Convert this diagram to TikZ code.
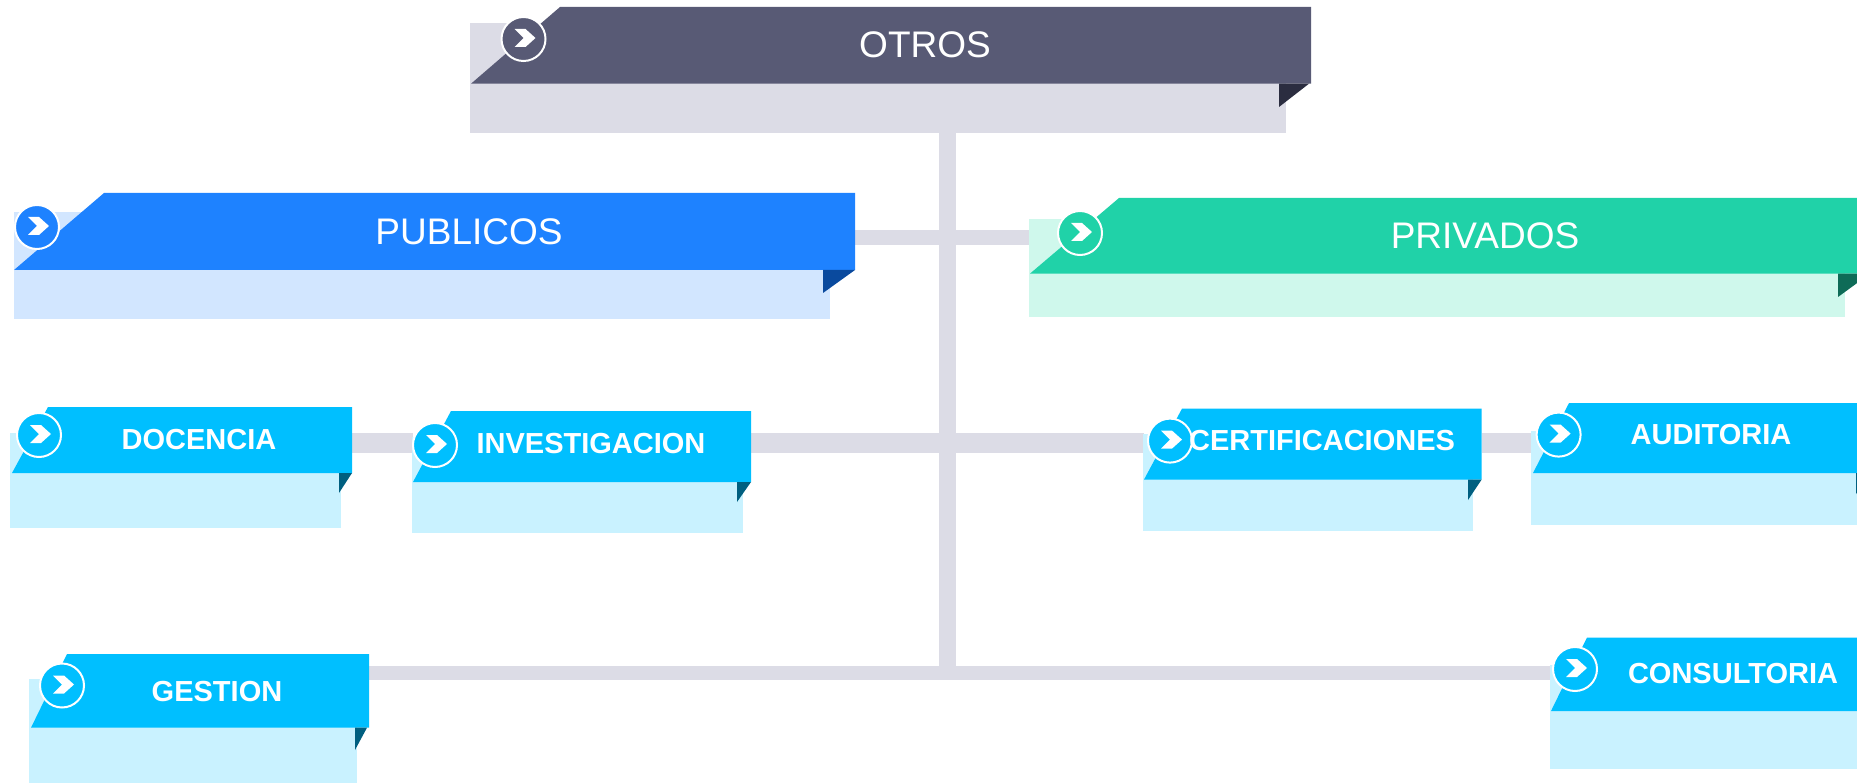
\documentclass[tikz,border=0pt]{standalone}
\usepackage{fontspec}
\setmainfont{Liberation Sans}
\usetikzlibrary{backgrounds,calc}
\definecolor{navy}{HTML}{585A75}\definecolor{navyp}{HTML}{DCDCE6}\definecolor{navyd}{HTML}{2B2D40}
\definecolor{blu}{HTML}{1E82FF}\definecolor{blup}{HTML}{D2E6FF}\definecolor{blud}{HTML}{0A4A9E}
\definecolor{grn}{HTML}{20D2A8}\definecolor{grnp}{HTML}{CFF8EC}\definecolor{grnd}{HTML}{0E6B57}
\definecolor{cya}{HTML}{00BFFF}\definecolor{cyap}{HTML}{C9F2FF}\definecolor{cyad}{HTML}{005F80}
\tikzset{
  barline/.style={draw=navyp,line cap=butt},
  headtext/.style={text=white,inner sep=0pt,font=\fontsize{37}{37}\selectfont},
  subtext/.style={text=white,inner sep=0pt,font=\bfseries\fontsize{29}{29}\selectfont},
  badge/.style={circle,draw=white,line width=2pt,minimum size=44pt,inner sep=0pt},
}
% \pale{name}{colour}{x0}{y0}{x1}{y1}
\newcommand{\pale}[6]{\fill[#2] (#3,#4) rectangle (#5,#6);
  \coordinate (#1-s) at ({(#3+#5)/2},#6);}
% \band{name}{colour}{tipx}{topx}{top}{bottom}{right}
\newcommand{\band}[7]{\fill[#2] (#3,#6) -- (#4,#5) -- (#7,#5) -- (#7,#6) -- cycle;
  \coordinate (#1-l) at (#3,{(#5+#6)/2});\coordinate (#1-r) at (#7,{(#5+#6)/2});}
% \fold{colour}{x}{y}{tipx}{bottom}
\newcommand{\fold}[5]{\fill[#1] (#2,#3) -- (#4,#3) -- (#2,#5) -- cycle;}
% \badgeat{name}{colour}{x}{y}
\newcommand{\badgeat}[4]{\node[badge,fill=#2] (#1-b) at (#3,#4) {};
  \fill[white] ($(#1-b)+(-9,-10)$) -- ($(#1-b)+(2,-10)$) -- ($(#1-b)+(12,-1)$) -- ($(#1-b)+(2,8)$) -- ($(#1-b)+(-9,8)$) -- ($(#1-b)+(0,-1)$) -- cycle;}
\begin{document}
\begin{tikzpicture}[x=1pt,y=-1pt]
\useasboundingbox (0,0) rectangle (1857,783);
\clip (0,0) rectangle (1857,783);
% OTROS
\pale{otros}{navyp}{470}{23}{1286}{132.7}
\band{otros}{navy}{471}{560}{7}{83.7}{1311}
\fold{navyd}{1279}{83.7}{1309}{107}
\badgeat{otros}{navy}{523.5}{39}
\node[headtext] (otrostxt) at (925,45) {OTROS};
% PUBLICOS
\pale{pub}{blup}{14}{212}{830}{318.6}
\band{pub}{blu}{14}{104}{193}{270}{855}
\fold{blud}{823}{270}{855}{293}
\badgeat{pub}{blu}{37}{227}
\node[headtext] (pubtxt) at (469,232) {PUBLICOS};
% PRIVADOS
\pale{priv}{grnp}{1029}{219}{1845}{317.4}
\band{priv}{grn}{1030}{1119}{198}{273.6}{1870}
\fold{grnd}{1838}{273.6}{1870}{297}
\badgeat{priv}{grn}{1080}{233}
\node[headtext] (privtxt) at (1485,236) {PRIVADOS};
% DOCENCIA
\pale{doc}{cyap}{10}{433}{341}{528}
\band{doc}{cya}{12}{48}{407}{473}{352}
\fold{cyad}{339}{473}{352}{493}
\badgeat{doc}{cya}{39}{435}
\node[subtext] (doctxt) at (199,440) {DOCENCIA};
% INVESTIGACION
\pale{inv}{cyap}{412}{437}{743}{533}
\band{inv}{cya}{413}{451}{411}{482}{751}
\fold{cyad}{737}{482}{751}{502}
\badgeat{inv}{cya}{435}{445}
\node[subtext] (invtxt) at (591,444) {INVESTIGACION};
% CERTIFICACIONES
\pale{cert}{cyap}{1143}{434}{1473}{530.6}
\band{cert}{cya}{1144}{1182}{408.6}{479.6}{1481.6}
\fold{cyad}{1468}{479.6}{1481.6}{500}
\badgeat{cert}{cya}{1170}{440.6}
\node[subtext] (certtxt) at (1322,441) {CERTIFICACIONES};
% AUDITORIA
\pale{aud}{cyap}{1531}{431}{1870}{525}
\band{aud}{cya}{1533}{1569}{403}{473}{1870}
\fold{cyad}{1856}{473}{1870}{494}
\badgeat{aud}{cya}{1558.6}{434.6}
\node[subtext] (audtxt) at (1711,435) {AUDITORIA};
% GESTION
\pale{ges}{cyap}{29}{679}{357}{783}
\band{ges}{cya}{31}{67}{654}{727.7}{369}
\fold{cyad}{355}{727.7}{367}{750}
\badgeat{ges}{cya}{62}{685.5}
\node[subtext] (gestxt) at (217,692) {GESTION};
% CONSULTORIA
\pale{con}{cyap}{1550}{665}{1870}{769}
\band{con}{cya}{1551}{1587}{637.5}{711}{1870}
\badgeat{con}{cya}{1575}{669}
\node[subtext] (contxt) at (1733,674) {CONSULTORIA};
% connectors
\coordinate (trunk) at (947.5,680);
\coordinate (rowa) at (947.5,237.5);
\coordinate (rowb) at (947.5,443);
\coordinate (rowc) at (947.5,673);
\begin{pgfonlayer}{background}
\draw[barline,line width=17pt] (trunk |- otros-s) -- (trunk);
\draw[barline,line width=15pt] (rowa -| pub-r) -- (rowa -| priv-l);
\draw[barline,line width=20pt] (rowb -| doc-r) -- (rowb -| inv-l);
\draw[barline,line width=20pt] (rowb -| inv-r) -- (rowb -| cert-l);
\draw[barline,line width=20pt] (rowb -| cert-r) -- (rowb -| aud-l);
\draw[barline,line width=14pt] (rowc -| ges-r) -- (rowc -| con-l);
\end{pgfonlayer}
\end{tikzpicture}
\end{document}
